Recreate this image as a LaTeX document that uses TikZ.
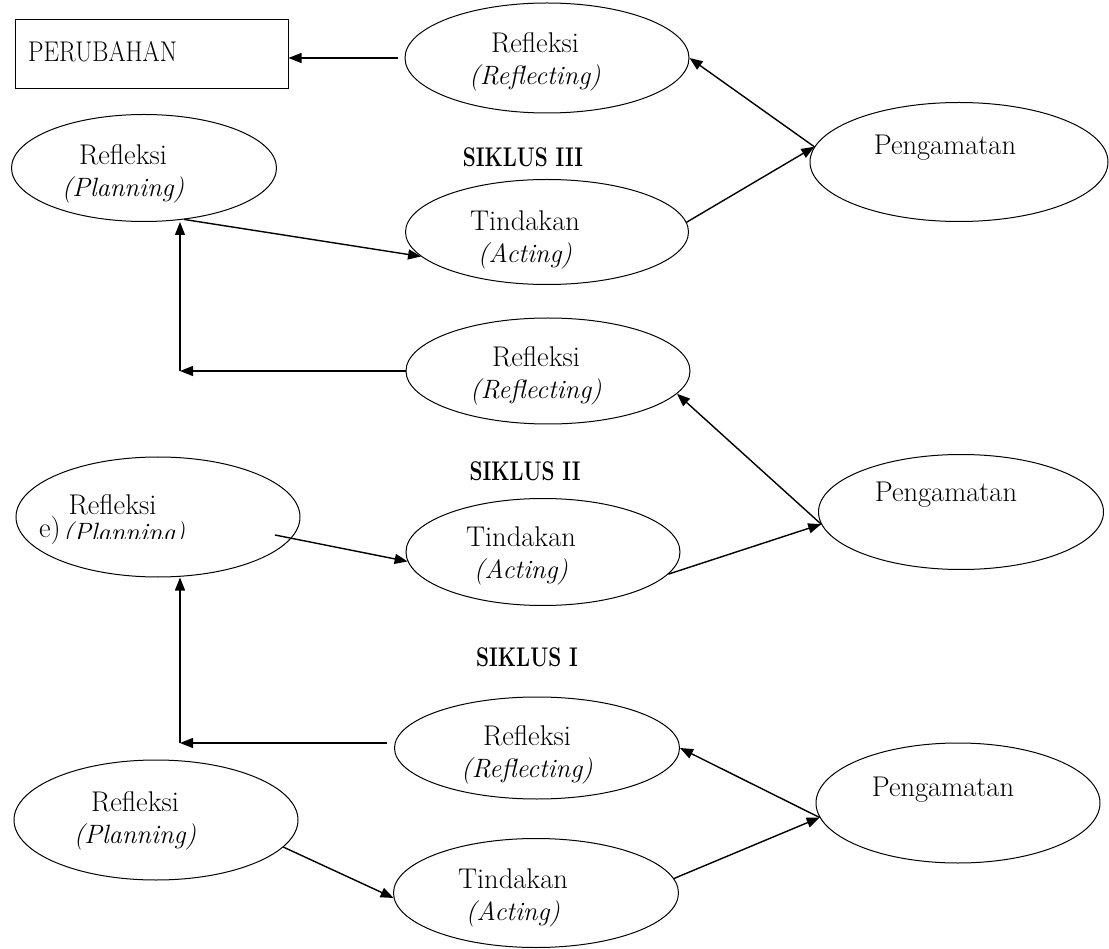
\documentclass[tikz,border=0pt]{standalone}
\usepackage{fontspec}
\usepackage{graphicx}
\usetikzlibrary{shapes.geometric,arrows.meta,calc}
\newcommand\itl[1]{{\fontsize{26.5}{32}\selectfont\itshape #1}}
\newcommand\siklab[1]{\scalebox{0.77}[1]{\bfseries\fontsize{27}{30}\selectfont #1}}
\begin{document}
\begin{tikzpicture}[x=1pt,y=-1pt,
  el/.style={draw,ellipse,line width=1pt,inner sep=0pt},
  arr/.style={line width=1.4pt,-{Triangle[length=13pt,width=10pt]}},
  txt/.style={inner sep=0pt,align=center,font=\fontsize{28.5}{32}\selectfont},
  lab/.style={inner sep=0pt}]
\useasboundingbox (0,0) rectangle (1109,949);

% ---- box
\node[draw,line width=1pt,minimum width=273pt,minimum height=69pt,inner sep=0pt] (box) at (151.5,54.5) {};
\node[inner sep=0pt,anchor=west] (boxt) at (28,52) {\scalebox{0.865}[1]{\fontsize{28.5}{32}\selectfont PERUBAHAN}};

% ---- cycle III
\node[el,minimum width=284pt,minimum height=110pt] (R3) at (547,58) {};
\node[txt] (R3t) at (535,62) {Refleksi\\\itl{(Reflecting)}};
\node[el,minimum width=298pt,minimum height=119pt] (P3) at (959,162) {};
\node[txt] (P3t) at (945,148) {Pengamatan};
\node[el,minimum width=283pt,minimum height=105pt] (T3) at (547,232) {};
\node[txt] (T3t) at (525,239.5) {Tindakan\\\itl{(Acting)}};
\node[el,minimum width=265pt,minimum height=107pt] (PL3) at (144,168) {};
\node[txt] (PL3t) at (123,173.5) {Refleksi\\\itl{(Planning)}};
\node[lab] (S3) at (523,157) {\siklab{SIKLUS III}};

% ---- cycle II
\node[el,minimum width=284pt,minimum height=106pt] (R2) at (548,371) {};
\node[txt] (R2t) at (536,376) {Refleksi\\\itl{(Reflecting)}};
\node[el,minimum width=285pt,minimum height=115pt] (P2) at (961,512) {};
\node[txt] (P2t) at (946,495) {Pengamatan};
\node[el,minimum width=274pt,minimum height=107pt] (T2) at (543,552) {};
\node[txt] (T2t) at (521,556) {Tindakan\\\itl{(Acting)}};
\node[el,minimum width=284pt,minimum height=120pt] (PL2) at (158,517) {};
\node[txt] (PL2e) at (50,530) {e)};
\node[txt] (PL2t) at (112.5,505) {Refleksi};
\begin{scope}
  \clip (55,500) rectangle (205,538);
  \node[txt,anchor=base] (PL2p) at (124,541) {\itl{(Planning)}};
\end{scope}
\node[lab] (S2) at (525,471) {\siklab{SIKLUS II}};

% ---- cycle I
\node[el,minimum width=285pt,minimum height=102pt] (R1) at (537,748) {};
\node[txt] (R1t) at (527,754.5) {Refleksi\\\itl{(Reflecting)}};
\node[el,minimum width=284pt,minimum height=120pt] (P1) at (958,803) {};
\node[txt] (P1t) at (943,790) {Pengamatan};
\node[el,minimum width=285pt,minimum height=109pt] (T1) at (536,893) {};
\node[txt] (T1t) at (513,898) {Tindakan\\\itl{(Acting)}};
\node[el,minimum width=284pt,minimum height=120pt] (PL1) at (156,820) {};
\node[txt] (PL1t) at (135,821) {Refleksi\\\itl{(Planning)}};
\node[lab] (S1) at (527,657) {\siklab{SIKLUS I}};

% ---- connectors
\coordinate (c2) at (180,371);
\coordinate (c1) at (180,743);
\coordinate (s2) at (275,535);

\draw[arr,shorten <=7pt] (R3.west) -- (R3.west -| box.east);
\draw[arr] (P3.174) -- (R3.east);
\draw[arr] (T3.4) -- (P3.174);
\draw[arr] (PL3.-52) -- (T3.191);
\draw[arr] (R2.west) -- (c2);
\draw[arr] (c2) -- (c2 |- PL3.south);

\draw[arr] (P2.185) -- (R2.-10);
\draw[arr] (T2.-10) -- (P2.185);
\draw[arr] (s2) -- (T2.184);
\draw[arr,shorten <=7pt] (c1 -| R1.west) -- (c1);
\draw[arr] (c1) -- (c1 |- PL2.south);

\draw[arr] (P1.186) -- (R1.east);
\draw[arr] (T1.6) -- (P1.186);
\draw[arr] (PL1.-12) -- (T1.182);
\end{tikzpicture}
\end{document}
